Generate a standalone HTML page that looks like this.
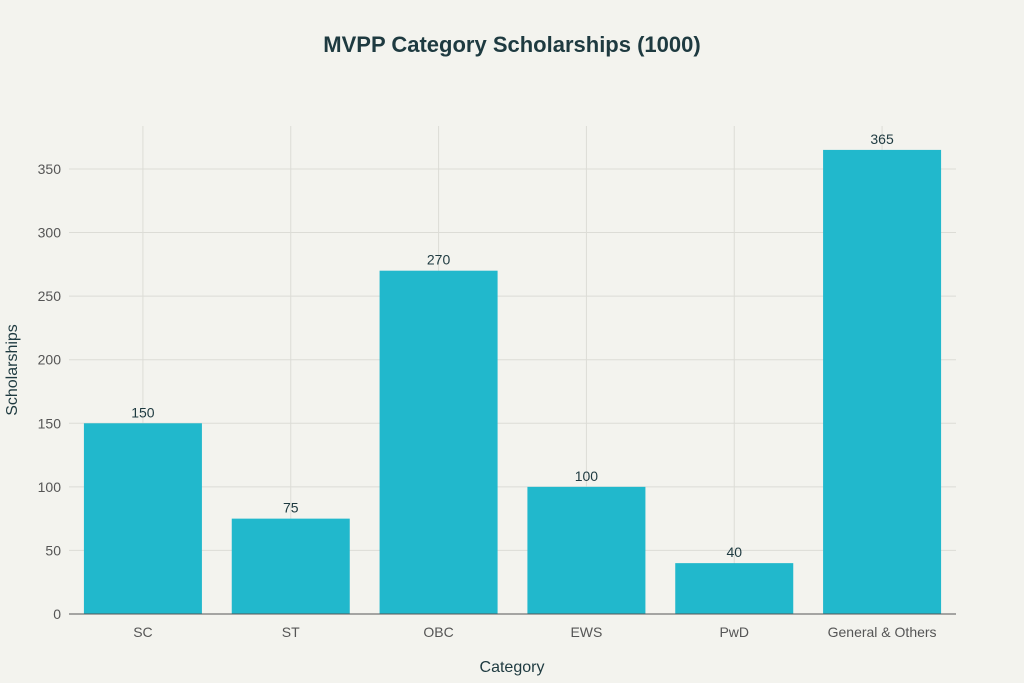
<!DOCTYPE html>
<html><head><meta charset="utf-8"><style>
body{margin:0;background:#f3f3ee;}
svg{display:block;font-family:"Liberation Sans",sans-serif;}
</style></head><body>
<svg id="chart" width="1024" height="683">
<rect width="1024" height="683" fill="#f3f3ee"/>
<text x="512" y="52" text-anchor="middle" font-size="22" font-weight="bold" fill="#1e3a40">MVPP Category Scholarships (1000)</text>
<g id="grid"></g><g id="bars"></g><g id="axes"></g>
<text x="512" y="672" text-anchor="middle" font-size="16" fill="#1e3a40">Category</text>
<text transform="translate(17,370) rotate(-90)" text-anchor="middle" font-size="16" fill="#1e3a40">Scholarships</text>
</svg>
<script>
const categories=["SC","ST","OBC","EWS","PwD","General & Others"];
const values=[150,75,270,100,40,365];
const yTicks=[0,50,100,150,200,250,300,350];
const L=69,R=956,B=614,T=126,yMax=383.8;
const ns="http://www.w3.org/2000/svg";
const y=v=>B-(v/yMax)*(B-T);
const bw=(R-L)/categories.length;
const x=i=>L+bw*(i+0.5);
function mk(t,a,p){const e=document.createElementNS(ns,t);for(const k in a)e.setAttribute(k,a[k]);document.getElementById(p).appendChild(e);return e;}
yTicks.forEach(v=>{
 if(v>0){const g=mk("line",{x1:L,x2:R,y1:y(v),y2:y(v),stroke:"#dcdcd6","stroke-width":1},"grid");
 
 }
 const t=mk("text",{x:L-8,y:y(v)+5,"text-anchor":"end","font-size":14,fill:"#555"},"axes");t.textContent=v;
 
 
});
categories.forEach((c,i)=>{
 const g=mk("line",{x1:x(i),x2:x(i),y1:T,y2:B,stroke:"#dcdcd6","stroke-width":1},"grid");
 
 
 const r=mk("rect",{x:x(i)-59,width:118,y:y(values[i]),height:B-y(values[i]),fill:"#21b8cc"},"bars");
 
 
 const l=mk("text",{x:x(i),y:y(values[i])-6,"text-anchor":"middle","font-size":14,fill:"#1e3a40"},"bars");l.textContent=values[i];
 
 
 const t=mk("text",{x:x(i),y:B+23,"text-anchor":"middle","font-size":14,fill:"#555"},"axes");t.textContent=c;
 
 
});
const a=mk("line",{x1:L,x2:R,y1:B,y2:B,stroke:"#555","stroke-width":1},"axes");


</script>
</body></html>
